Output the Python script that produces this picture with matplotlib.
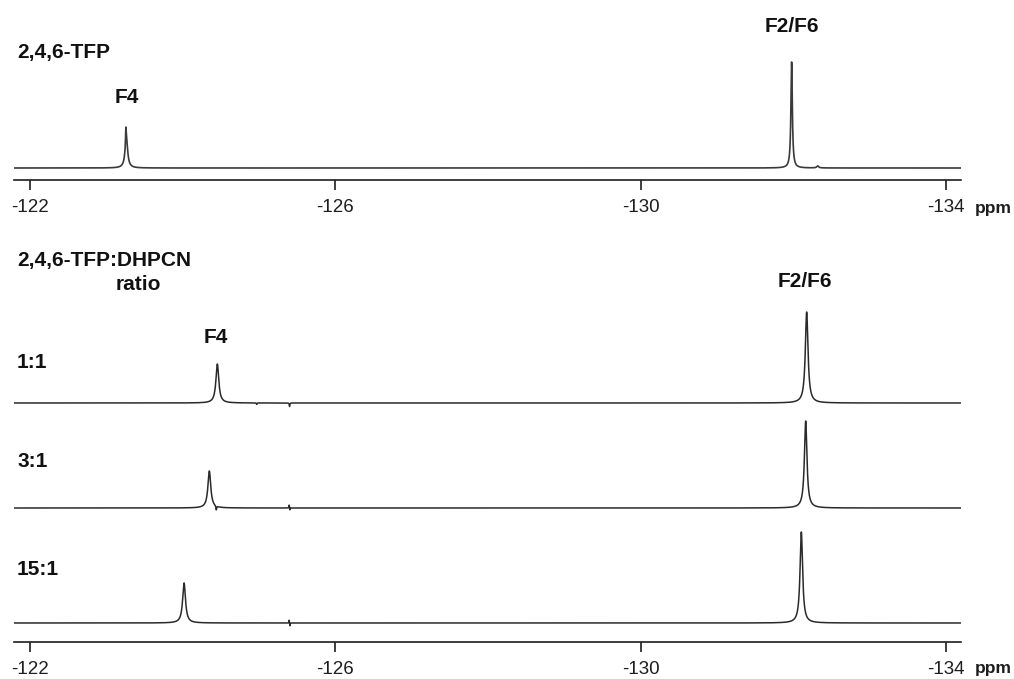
import numpy as np
import matplotlib
matplotlib.use("Agg")
import matplotlib.pyplot as plt

plt.rcParams["font.family"] = ["Liberation Sans", "DejaVu Sans"]
plt.rcParams["axes.unicode_minus"] = False

# ---- spectral data (chemical shift in ppm, intensity in a.u., FWHM in ppm) ----
ppm_range = (-121.79, -134.197)
tick_values = [-122, -126, -130, -134]
tick_labels = ["-122", "-126", "-130", "-134"]

# free 2,4,6-trifluorophenol
tfp_shift = [-123.262, -123.255, -131.978, -132.32]
tfp_height = [30.0, 14.0, 106.0, 2.0]
tfp_width = [0.040, 0.008, 0.022, 0.03]

# 2,4,6-TFP:DHPCN mixtures
ratio_labels = ["1:1", "3:1", "15:1"]
mix_shift = [
    [-124.454, -132.175, -124.97, -125.40],
    [-124.349, -124.440, -132.162, -125.395, -125.405],
    [-124.018, -132.105, -125.395, -125.405],
]
mix_height = [
    [39.0, 91.0, -1.5, -3.5],
    [37.0, -4.0, 87.0, 3.0, -2.0],
    [40.0, 91.0, 3.0, -3.0],
]
mix_width = [
    [0.045, 0.042, 0.008, 0.008],
    [0.045, 0.010, 0.040, 0.006, 0.006],
    [0.045, 0.040, 0.006, 0.006],
]


def lorentzian_sum(x, shifts, heights, widths):
    y = np.zeros_like(x)
    for c, h, w in zip(shifts, heights, widths):
        hw = w / 2.0
        y += h * hw**2 / ((x - c) ** 2 + hw**2)
    return y


x = np.linspace(ppm_range[0], ppm_range[1], 30000)

W, H = 1014, 679
fig = plt.figure(figsize=(W / 100, H / 100), dpi=100)
fig.patch.set_facecolor("white")


def px_axes(x0, y0, x1, y1):
    return fig.add_axes([x0 / W, 1 - y1 / H, (x1 - x0) / W, (y1 - y0) / H])


def style_axis(ax, height):
    ax.set_xlim(*ppm_range)
    ax.set_ylim(0, height)
    for side in ("top", "left", "right"):
        ax.spines[side].set_visible(False)
    ax.spines["bottom"].set_linewidth(1.2)
    ax.spines["bottom"].set_color("#1e1e1e")
    ax.set_yticks([])
    ax.set_xticks(tick_values)
    ax.set_xticklabels(tick_labels)
    ax.tick_params(axis="x", direction="out", length=7.5, width=1.2,
                   color="#1e1e1e", labelsize=13.5, pad=6.0, labelcolor="#1e1e1e")
    ax.patch.set_alpha(0)
    ax.text(-134.38, -33 if height == 180 else -31, "ppm", fontsize=12.5,
            fontweight="bold", ha="left", va="baseline", clip_on=False,
            color="#1e1e1e")


label_kw = dict(fontsize=15, fontweight="bold", color="#111111", va="baseline")
x_left = -121.83

# ---- top panel: free TFP ----
ax1 = px_axes(14, 0, 961, 180)
style_axis(ax1, 180)
y_tfp = 12 + lorentzian_sum(x, tfp_shift, tfp_height, tfp_width)
ax1.plot(x, y_tfp, color="#3a3a3a", lw=1.2)
ax1.text(x_left, 180 - 58, "2,4,6-TFP", ha="left", **label_kw)
ax1.text(-123.27, 180 - 103, "F4", ha="center", **label_kw)
ax1.text(-131.98, 180 - 32, "F2/F6", ha="center", **label_kw)

# ---- bottom panel: stacked mixture spectra ----
ax2 = px_axes(14, 230, 961, 642)
style_axis(ax2, 412)
baselines = [239, 134, 19]
label_y = [368, 466.7, 575]
for lab, sh, hg, wd, base, ly in zip(ratio_labels, mix_shift, mix_height,
                                     mix_width, baselines, label_y):
    y = base + lorentzian_sum(x, sh, hg, wd)
    ax2.plot(x, y, color="#2a2a2a", lw=1.1)
    ax2.text(x_left, 642 - ly, lab, ha="left", **label_kw)

ax2.text(x_left, 642 - 266, "2,4,6-TFP:DHPCN", ha="left", **label_kw)
ax2.text(-123.415, 642 - 290, "ratio", ha="center", **label_kw)
ax2.text(-124.44, 642 - 343, "F4", ha="center", **label_kw)
ax2.text(-132.15, 642 - 287, "F2/F6", ha="center", **label_kw)

fig.savefig("out.png", dpi=100)
